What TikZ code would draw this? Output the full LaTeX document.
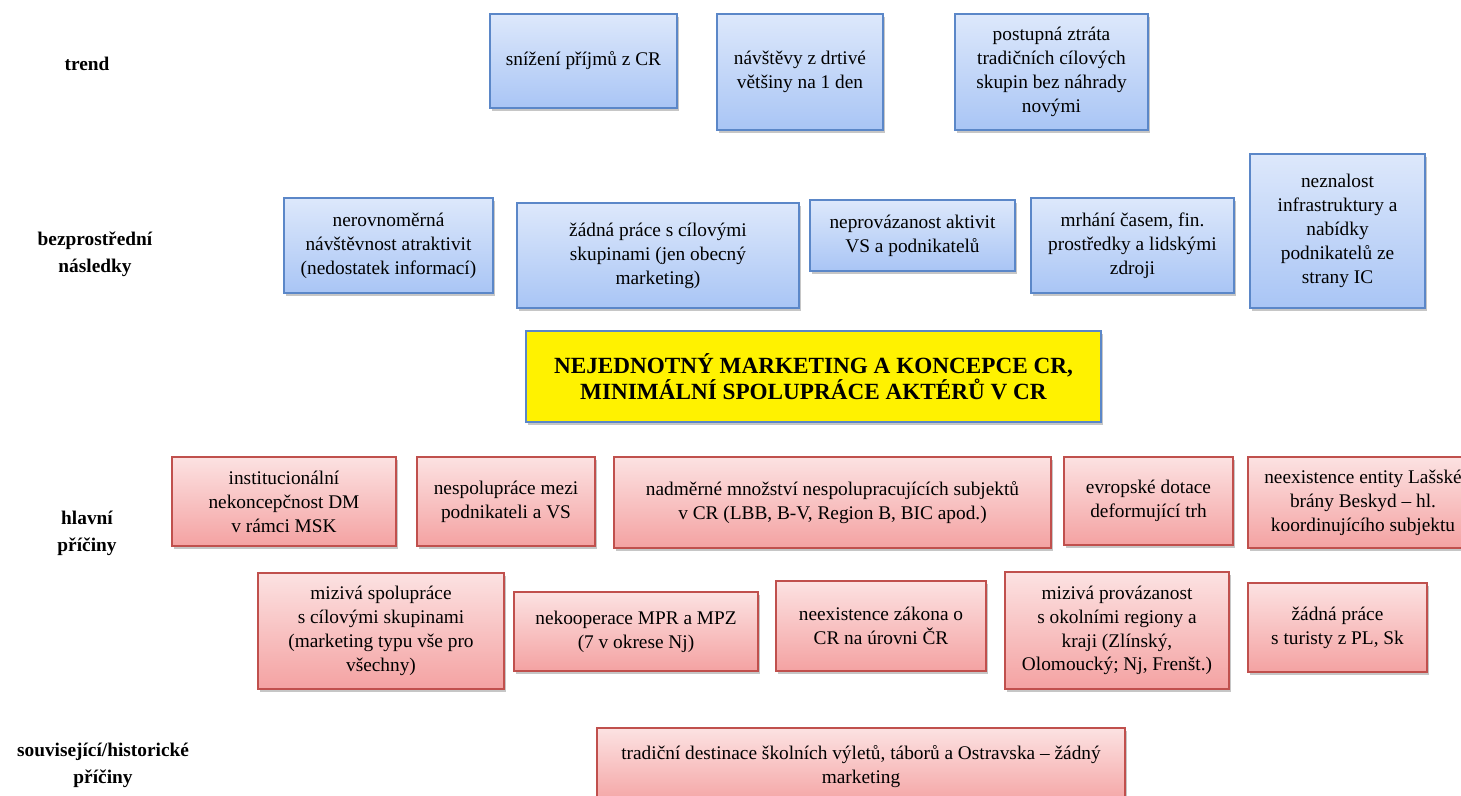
\documentclass[tikz,border=0pt]{standalone}
\usepackage{fontspec}
\setmainfont{Liberation Serif}
\usetikzlibrary{shadows}
\definecolor{blutop}{HTML}{DDE8FB}
\definecolor{blubot}{HTML}{A9C5F5}
\definecolor{bluline}{HTML}{5B87C8}
\definecolor{redtop}{HTML}{FCE2E2}
\definecolor{redbot}{HTML}{F4A2A2}
\definecolor{redline}{HTML}{C0504D}
\begin{document}
\begin{tikzpicture}[
        box/.style={draw, line width=0.8pt, align=center, inner sep=2pt,
            font=\fontsize{11}{13.6}\selectfont,
            drop shadow={shadow xshift=1.2pt, shadow yshift=-1.8pt, opacity=0.45}},
        blubox/.style={box, draw=bluline, top color=blutop, bottom color=blubot},
        redbox/.style={box, draw=redline, top color=redtop, bottom color=redbot},
        rowlabel/.style={align=center, font=\fontsize{11}{15.3}\selectfont\bfseries}]
    \useasboundingbox (0,0) rectangle (29.22,-15.90);
    % row labels
    \node[rowlabel] (ltrend) at (1.74,-1.28) {trend};
    \node[rowlabel] (lnasl) at (1.90,-5.08) {bezprostřední\\následky};
    \node[rowlabel] (lhlav) at (1.74,-10.66) {hlavní\\příčiny};
    \node[rowlabel] (lhist) at (2.06,-15.30) {související/historické\\příčiny};
    % trend
    \node[blubox, minimum width=3.74cm, minimum height=1.88cm] (t1) at (11.67,-1.22) {snížení příjmů z CR};
    \node[blubox, minimum width=3.32cm, minimum height=2.32cm] (t2) at (16.00,-1.44) {návštěvy z drtivé\\většiny na 1 den};
    \node[blubox, minimum width=3.86cm, minimum height=2.32cm] (t3) at (21.03,-1.44) {postupná ztráta\\tradičních cílových\\skupin bez náhrady\\novými};
    % bezprostredni nasledky
    \node[blubox, minimum width=4.18cm, minimum height=1.90cm] (b1) at (7.77,-4.91) {nerovnoměrná\\návštěvnost atraktivit\\(nedostatek informací)};
    \node[blubox, minimum width=5.64cm, minimum height=2.10cm] (b2) at (13.16,-5.11) {žádná práce s cílovými\\skupinami (jen obecný\\marketing)};
    \node[blubox, minimum width=4.10cm, minimum height=1.42cm] (b3) at (18.25,-4.71) {neprovázanost aktivit\\VS a podnikatelů};
    \node[blubox, minimum width=4.06cm, minimum height=1.90cm] (b4) at (22.65,-4.91) {mrhání časem, fin.\\prostředky a lidskými\\zdroji};
    \node[blubox, minimum width=3.50cm, minimum height=3.08cm] (b5) at (26.75,-4.62) {neznalost\\infrastruktury a\\nabídky\\podnikatelů ze\\strany IC};
    % problem
    \node[box, draw=bluline, fill=yellow, minimum width=11.5cm, minimum height=1.82cm,
        font=\fontsize{13.2}{15}\selectfont\bfseries] (prob) at (16.27,-7.53)
        {NEJEDNOTNÝ MARKETING A KONCEPCE CR,\\MINIMÁLNÍ SPOLUPRÁCE AKTÉRŮ V CR};
    % hlavni priciny
    \node[redbox, minimum width=4.48cm, minimum height=1.78cm] (h1) at (5.68,-10.03) {institucionální\\nekoncepčnost DM\\v rámci MSK};
    \node[redbox, minimum width=3.56cm, minimum height=1.78cm] (h2) at (10.12,-10.03) {nespolupráce mezi\\podnikateli a VS};
    \node[redbox, minimum width=8.74cm, minimum height=1.82cm] (h3) at (16.65,-10.05) {nadměrné množství nespolupracujících subjektů\\v CR (LBB, B-V, Region B, BIC apod.)};
    \node[redbox, minimum width=3.38cm, minimum height=1.76cm] (h4) at (22.97,-10.02) {evropské dotace\\deformující trh};
    \node[redbox, minimum width=4.60cm, minimum height=1.82cm] (h5) at (27.26,-10.05) {neexistence entity Lašské\\brány Beskyd – hl.\\koordinujícího subjektu};
    \node[redbox, minimum width=4.92cm, minimum height=2.32cm] (m1) at (7.62,-12.62) {mizivá spolupráce\\s cílovými skupinami\\(marketing typu vše pro\\všechny)};
    \node[redbox, minimum width=4.88cm, minimum height=1.58cm] (m2) at (12.72,-12.63) {nekooperace MPR a MPZ\\(7 v okrese Nj)};
    \node[redbox, minimum width=4.20cm, minimum height=1.80cm] (m3) at (17.62,-12.52) {neexistence zákona o\\CR na úrovni ČR};
    \node[redbox, minimum width=4.48cm, minimum height=2.34cm] (m4) at (22.34,-12.61) {mizivá provázanost\\s okolními regiony a\\kraji (Zlínský,\\Olomoucký; Nj, Frenšt.)};
    \node[redbox, minimum width=3.58cm, minimum height=1.78cm] (m5) at (26.75,-12.55) {žádná práce\\s turisty z PL, Sk};
    % historicke priciny
    \node[redbox, minimum width=10.56cm, minimum height=1.56cm] (s1) at (17.22,-15.34) {tradiční destinace školních výletů, táborů a Ostravska – žádný\\marketing};
\end{tikzpicture}
\end{document}
